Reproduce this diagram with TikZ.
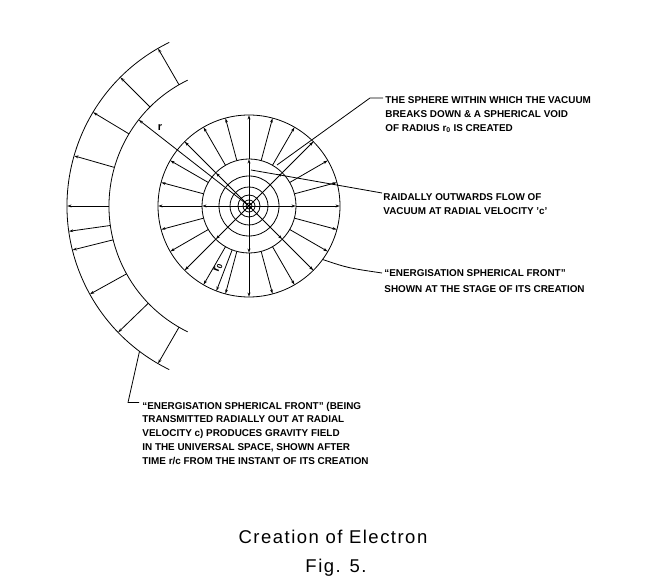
\documentclass[tikz,border=0pt]{standalone}
\usepackage{fontspec}
\setmainfont{Liberation Sans}
\newfontfamily\lblfont{Liberation Sans}
\newfontfamily\capfont{Liberation Sans}[LetterSpace=8]
\usetikzlibrary{arrows.meta}
\begin{document}
\begin{tikzpicture}[x=1pt,y=1pt,line width=0.8pt,
  flow/.style={-{Stealth[open,length=4.5pt,width=2.8pt,line width=0.6pt]}},
  lbl/.style={font=\lblfont\bfseries\fontsize{9.9}{13.8}\selectfont,align=left,anchor=north west,inner sep=0pt},
  lblwide/.style={lbl,font=\lblfont\bfseries\fontsize{9.9}{15.5}\selectfont},
  captext/.style={font=\capfont\fontsize{18.5}{22}\selectfont,anchor=base,inner sep=0pt},
  sym/.style={font=\lblfont\bfseries\fontsize{11}{13}\selectfont,inner sep=0pt}]
\useasboundingbox (0,0) rectangle (656,586);
\coordinate (C) at (249,380);
\begin{scope}[shift={(C)}]
  % inner sphere
  \foreach \r in {91,47,30,19,11,6,3}
    \draw (0,0) circle[radius=\r];
  \foreach \a in {0,15,...,345}
    \draw[flow] (\a:47) -- (\a:91);
  \foreach \a in {0,45,...,315}
    \draw[flow] (0,0) -- (\a:47);
  \draw[flow] (-111:47) -- (-111:91);
  % outer energisation front
  \draw (116:140) arc[start angle=116,end angle=244,radius=140];
  \draw (116:182) arc[start angle=116,end angle=244,radius=182];
  \foreach \a in {120,135,149,164,180,188,194,209,224,240}
    \draw[flow] (\a:140) -- (\a:182);
  \draw[flow] (0,0) -- (142:140);
\end{scope}
\node[sym] (rlbl) at (160,458) {r};
\node[sym,rotate=69] (r0lbl) at (218,318) {r\textsubscript{0}};
% labels
\node[lbl] (lblSphere) at (385,489.5) {THE SPHERE WITHIN WHICH THE VACUUM\\BREAKS DOWN \& A SPHERICAL VOID\\OF RADIUS r\textsubscript{0} IS CREATED};
\node[lbl] (lblFlow) at (383,392.5) {RAIDALLY OUTWARDS FLOW OF\\VACUUM AT RADIAL VELOCITY ’c’};
\node[lblwide] (lblFront) at (384,316.5) {“ENERGISATION SPHERICAL FRONT”\\SHOWN AT THE STAGE OF ITS CREATION};
\node[lbl] (lblGrav) at (142,184.5) {“ENERGISATION SPHERICAL FRONT” (BEING\\TRANSMITTED RADIALLY OUT AT RADIAL\\VELOCITY c) PRODUCES GRAVITY FIELD\\IN THE UNIVERSAL SPACE, SHOWN AFTER\\TIME r/c FROM THE INSTANT OF ITS CREATION};
% leaders
\coordinate (s1) at (383,488);
\coordinate (s2) at (370,488);
\coordinate (s3) at (277,421);
\draw (s1) -- (s2) -- (s3);
\coordinate (v1) at (251,416);
\coordinate (v2) at (297,408);
\coordinate (v3) at (382,393);
\draw (v1) -- (v2) -- (v3);
\coordinate (f1) at (322.6,326.5);
\coordinate (f2) at (382,313);
\draw (f1) .. controls (348,318) .. (f2);
\coordinate (g1) at (139.5,234.7);
\coordinate (g2) at (128,183.5);
\coordinate (g3) at (139,183.5);
\draw (g1) -- (g2) -- (g3);
% caption
\node[captext] (cap1) at (333,42.5) {Creation of Electron};
\node[captext] (cap2) at (336,13.5) {Fig. 5.};
\end{tikzpicture}
\end{document}
